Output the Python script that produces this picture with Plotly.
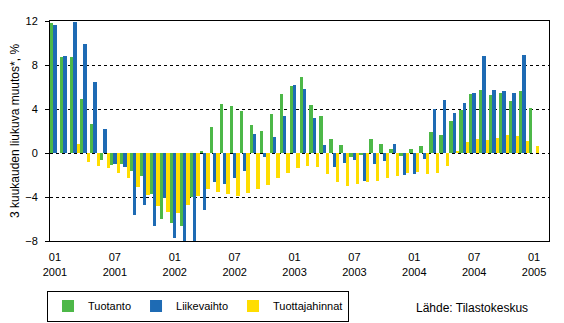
import plotly.graph_objects as go

# Months Jan 2001 .. Jan 2005
months = [f"{y}-{m:02d}" for y in range(2001, 2006) for m in range(1, 13)][:49]

tuotanto = [11.8, 8.7, 8.7, 4.9, 2.65, -0.6, -1.1, -1.0, -1.6, -2.1, -3.75, -6.0,
            -6.35, -6.6, -4.0, 0.2, 2.35, 4.45, 4.3, 3.8, 2.55, 2.0, 3.55, 5.35,
            6.1, 6.9, 4.35, 3.35, 1.3, 0.75, -0.4, -0.2, 1.3, 0.8, 0.4, -0.3,
            0.35, 0.65, 1.9, 1.65, 2.9, 3.9, 5.35, 5.7, 5.25, 5.45, 4.7, 5.65,
            4.1]
liikevaihto = [11.6, 8.8, 11.9, 9.9, 6.45, 2.2, -1.0, -1.3, -5.6, -4.7, -6.6, -4.1,
               -7.75, -8.3, -8.3, -5.2, -2.65, -2.85, -2.3, -1.65, 1.7, -0.4, 1.45, 3.35,
               6.2, 5.8, 3.2, 0.7, -1.3, -0.95, -0.65, -2.5, -1.0, -0.75, 0.8, -2.0,
               -1.95, -0.55, 4.0, 4.8, 3.65, 4.55, 5.45, 8.8, 5.7, 5.65, 5.45, 8.9,
               None]
tuottajahinnat = [None, None, 0.8, -0.85, -1.2, -1.4, -1.85, -2.3, -3.1, -3.85, -4.85, -5.35,
                  -5.45, -4.75, -3.95, -3.3, -3.5, -3.75, -3.95, -3.65, -3.3, -2.95, -2.3, -1.85,
                  -1.4, -1.2, -1.3, -1.95, -2.6, -3.0, -2.85, -2.65, -2.5, -2.3, -2.1, -1.85,
                  -1.75, -1.95, -1.85, -1.2, 0.2, 1.0, 1.25, 1.2, 1.35, 1.65, 1.55, 1.1,
                  0.65]

tick_months = ["2001-01", "2001-07", "2002-01", "2002-07", "2003-01",
               "2003-07", "2004-01", "2004-07", "2005-01"]
tick_labels = ["01<br>2001", "07<br>2001", "01<br>2002", "07<br>2002", "01<br>2003",
               "07<br>2003", "01<br>2004", "07<br>2004", "01<br>2005"]

y_range = [-8, 12]
FONT = "Liberation Sans, Arial, sans-serif"

fig = go.Figure()
fig.add_bar(x=months, y=tuotanto, name="Tuotanto", marker_color="#4DB848", marker_line_width=0)
fig.add_bar(x=months, y=liikevaihto, name="Liikevaihto", marker_color="#1E6BB4", marker_line_width=0)
fig.add_bar(x=months, y=tuottajahinnat, name="Tuottajahinnat", marker_color="#FFDD00", marker_line_width=0)

zero_pos = (0 - y_range[0]) / (y_range[1] - y_range[0])

fig.update_layout(
    width=564, height=323,
    margin=dict(l=50, r=15, t=21, b=82, autoexpand=False),
    paper_bgcolor="white", plot_bgcolor="white",
    barmode="group", bargap=0, bargroupgap=0,
    font=dict(family=FONT, size=11, color="black"),
    xaxis=dict(
        type="category", categoryorder="array", categoryarray=months,
        range=[-0.5, 49.5], automargin=False,
        tickmode="array", tickvals=tick_months, ticktext=tick_labels,
        ticks="", showgrid=False, showline=True, linecolor="black", linewidth=1,
        mirror=True, tickfont=dict(size=11), ticklabelstandoff=6,
    ),
    xaxis2=dict(
        overlaying="x", anchor="free", position=zero_pos, range=[-0.5, 49.5],
        tickmode="array", tickvals=[i + 2.5 for i in range(0, 48, 3)],
        showticklabels=False, ticks="outside", ticklen=4, tickcolor="black",
        showline=True, linecolor="black", linewidth=1.5, showgrid=False,
        zeroline=False, layer="above traces", automargin=False,
    ),
    yaxis=dict(
        range=y_range, tickmode="linear", tick0=-8, dtick=4, automargin=True,
        ticks="outside", ticklen=4, tickcolor="black",
        showline=True, linecolor="black", linewidth=1, mirror=True,
        showgrid=True, gridcolor="black", gridwidth=1, griddash="3px,3px",
        zeroline=False, tickfont=dict(size=11), ticklabelstandoff=5,
        title=dict(text="3 kuukauden liukuva muutos*, %", font=dict(size=12), standoff=3),
    ),
    legend=dict(
        orientation="h", x=-0.006, y=-0.225, xanchor="left", yanchor="top",
        bordercolor="black", borderwidth=1, font=dict(size=11),
        itemwidth=30, tracegroupgap=0,
    ),
    annotations=[dict(
        text="Lähde: Tilastokeskus", xref="paper", yref="paper",
        x=0.962, y=-0.3045, xanchor="right", yanchor="middle",
        showarrow=False, font=dict(size=12),
    )],
)

fig.write_html("out.html")
